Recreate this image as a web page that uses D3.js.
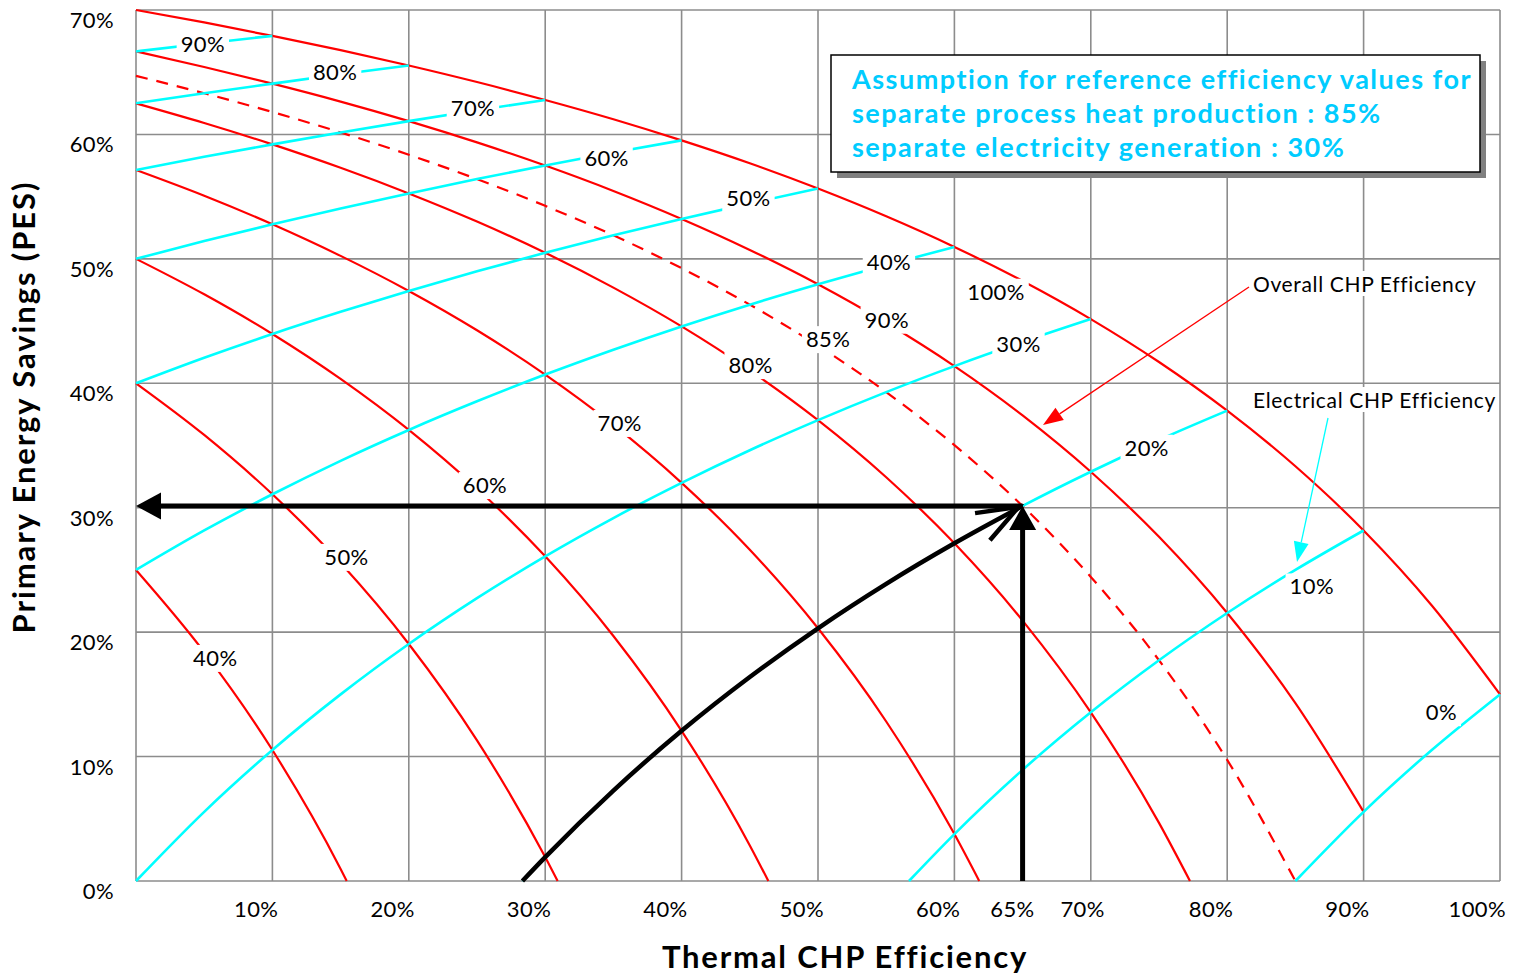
<!DOCTYPE html>
<html><head><meta charset="utf-8">
<script src="https://cdn.jsdelivr.net/npm/d3@7"></script>
<style>body{margin:0;background:#fff} svg{display:block} text{font-family:Lato,"Open Sans",sans-serif}</style>
</head><body>
<svg id="c" width="1520" height="976"></svg>
<script>
// ---- Data: [thermal CHP efficiency %, primary energy savings %] ----
// Overall CHP efficiency curves (red)
const overall40 = [[0,25],[5,18.40],[10,10.53],[15,0.97],[15.45,0]];
const overall50 = [[0,40],[5,35.85],[10,31.08],[15,25.55],[20,19.05],[25,11.30],[30,1.92],[30.91,0]];
const overall60 = [[0,50],[5,47.15],[10,43.96],[15,40.35],[20,36.25],[25,31.54],[30,26.09],[35,19.69],[40,12.07],[45,2.86],[46.36,0]];
const overall70 = [[0,57.14],[5,55.07],[10,52.78],[15,50.24],[20,47.42],[25,44.26],[30,40.70],[35,36.65],[40,32.00],[45,26.62],[50,20.31],[55,12.82],[60,3.77],[61.82,0]];
const overall80 = [[0,62.5],[5,60.92],[10,59.20],[15,57.32],[20,55.26],[25,53.00],[30,50.49],[35,47.69],[40,44.57],[45,41.04],[50,37.04],[55,32.45],[60,27.14],[65,20.93],[70,13.56],[75,4.67],[77.27,0]];
const overall85 = [[0,64.71],[5,63.31],[10,61.80],[15,60.16],[20,58.37],[25,56.41],[30,54.26],[35,51.89],[40,49.25],[45,46.32],[50,43.02],[55,39.29],[60,35.03],[65,30.14],[70,24.44],[75,17.74],[80,9.73],[85,0]];
const overall90 = [[0,66.67],[5,65.42],[10,64.08],[15,62.64],[20,61.07],[25,59.36],[30,57.50],[35,55.46],[40,53.21],[45,50.72],[50,47.96],[55,44.86],[60,41.38],[65,37.42],[70,32.89],[75,27.66],[80,21.54],[85,14.29],[90,5.56]];
const overall100 = [[0,70],[5,69.00],[10,67.92],[15,66.78],[20,65.54],[25,64.21],[30,62.77],[35,61.22],[40,59.52],[45,57.68],[50,55.65],[55,53.42],[60,50.96],[65,48.22],[70,45.16],[75,41.71],[80,37.80],[85,33.33],[90,28.17],[95,22.14],[100,15.00]];
// Electrical CHP efficiency curves (cyan)
const electrical0 = [[85,0],[90,5.56],[95,10.53],[100,15.00]];
const electrical10 = [[56.67,0],[60,3.77],[65,8.93],[70,13.56],[75,17.74],[80,21.54],[85,25.00],[90,28.17]];
const electrical20 = [[28.33,0],[30,1.92],[35,7.27],[40,12.07],[45,16.39],[50,20.31],[55,23.88],[60,27.14],[65,30.14],[70,32.89],[75,35.44],[80,37.80]];
const electrical30 = [[0,0],[5,5.56],[10,10.53],[15,15.00],[20,19.05],[25,22.73],[30,26.09],[35,29.17],[40,32.00],[45,34.62],[50,37.04],[55,39.29],[60,41.38],[65,43.33],[70,45.16]];
const electrical40 = [[0,25],[5,28.17],[10,31.08],[15,33.77],[20,36.25],[25,38.55],[30,40.70],[35,42.70],[40,44.57],[45,46.32],[50,47.96],[55,49.50],[60,50.96]];
const electrical50 = [[0,40],[5,42.05],[10,43.96],[15,45.74],[20,47.42],[25,49.00],[30,50.49],[35,51.89],[40,53.21],[45,54.46],[50,55.65]];
const electrical60 = [[0,50],[5,51.43],[10,52.78],[15,54.05],[20,55.26],[25,56.41],[30,57.50],[35,58.54],[40,59.52]];
const electrical70 = [[0,57.14],[5,58.20],[10,59.20],[15,60.16],[20,61.07],[25,61.94],[30,62.77]];
const electrical80 = [[0,62.5],[5,63.31],[10,64.08],[15,64.83],[20,65.54]];
const electrical90 = [[0,66.67],[5,67.31],[10,67.92]];
// Operating point example (thermal 65%, electrical 20%)
const operatingPoint = [65, 30.14];
// Ticks
const xTickValues = [10,20,30,40,50,60,65,70,80,90,100];
const yTickValues = [0,10,20,30,40,50,60,70];
const xGridValues = [0,10,20,30,40,50,60,70,80,90,100];
const boxLines = ["Assumption for reference efficiency values for","separate process heat production : 85%","separate electricity generation : 30%"];

// ---- Series tables ----
const redSeries = [
  {name:"40%", pts:overall40, at:5.3, dx:7, dy:0},
  {name:"50%", pts:overall50, at:14.55, dx:12, dy:0},
  {name:"60%", pts:overall60, at:24.7, dx:12, dy:0},
  {name:"70%", pts:overall70, at:34.8, dx:9, dy:0},
  {name:"80%", pts:overall80, at:44.4, dx:9, dy:0},
  {name:"85%", pts:overall85, at:49.2, dx:21, dy:0, dashed:true},
  {name:"90%", pts:overall90, at:54.6, dx:6, dy:0},
  {name:"100%", pts:overall100, at:63.05, dx:0, dy:24}
];
const cyanSeries = [
  {name:"0%", pts:electrical0, at:95.7, dx:0, dy:-30},
  {name:"10%", pts:electrical10, at:86.2, dx:0, dy:26},
  {name:"20%", pts:electrical20, at:74.1, dx:0, dy:2},
  {name:"30%", pts:electrical30, at:64.7, dx:0, dy:1},
  {name:"40%", pts:electrical40, at:55.2, dx:0, dy:-2},
  {name:"50%", pts:electrical50, at:44.9, dx:0, dy:-6},
  {name:"60%", pts:electrical60, at:34.5, dx:0, dy:4},
  {name:"70%", pts:electrical70, at:24.7, dx:0, dy:-3},
  {name:"80%", pts:electrical80, at:14.6, dx:0, dy:-3},
  {name:"90%", pts:electrical90, at:4.9, dx:0, dy:0}
];

const svg = d3.select("#c");
const x = d3.scaleLinear().domain([0,100]).range([136,1500]);
const y = d3.scaleLinear().domain([0,70]).range([881,10]);
const line = d3.line().x(d=>x(d[0])).y(d=>y(d[1])).curve(d3.curveMonotoneX);

function interp(pts, t){
  for(let i=0;i<pts.length-1;i++){
    const a=pts[i], b=pts[i+1];
    if(t>=a[0] && t<=b[0]){ const f=(t-a[0])/(b[0]-a[0]); return [t, a[1]+f*(b[1]-a[1])]; }
  }
  return pts[pts.length-1];
}

const LABEL_FS = 22, LABEL_LS = 0.4;

// ---- Grid ----
const grid = svg.append("g").attr("stroke","#8c8c8c").attr("stroke-width",1.6);
grid.selectAll("line.v").data(xGridValues).join("line").attr("class","v")
  .attr("x1",d=>x(d)).attr("x2",d=>x(d)).attr("y1",y(0)).attr("y2",y(70));
grid.selectAll("line.h").data(yTickValues).join("line").attr("class","h")
  .attr("x1",x(0)).attr("x2",x(100)).attr("y1",d=>y(d)).attr("y2",d=>y(d));

// ---- Tick labels ----
const xTickNudge = {65:12, 70:14};
svg.append("g").selectAll("text").data(xTickValues).join("text")
  .attr("x",d=>x(d)+(xTickNudge[d]||6)).attr("y",y(0)+36)
  .attr("text-anchor","end").attr("font-size",LABEL_FS).attr("letter-spacing",LABEL_LS).attr("fill","#000")
  .text(d=>d+"%");
svg.append("g").selectAll("text").data(yTickValues).join("text")
  .attr("x",114).attr("y",d=>y(d)+18)
  .attr("text-anchor","end").attr("font-size",LABEL_FS).attr("letter-spacing",LABEL_LS).attr("fill","#000")
  .text(d=>d+"%");

// ---- Curves ----
svg.append("g").selectAll("path").data(redSeries).join("path")
  .attr("d",d=>line(d.pts)).attr("fill","none").attr("stroke","#ff0000").attr("stroke-width",2.2)
  .attr("stroke-dasharray",d=>d.dashed?"12,9":null);
svg.append("g").selectAll("path").data(cyanSeries).join("path")
  .attr("d",d=>line(d.pts)).attr("fill","none").attr("stroke","#00ffff").attr("stroke-width",2.6);

// ---- Curve labels ----
const labG = svg.append("g");
[...redSeries, ...cyanSeries].forEach(s=>{
  const p = interp(s.pts, s.at);
  const cx = x(p[0])+s.dx, cy = y(p[1])+s.dy;
  const g = labG.append("g");
  const t = g.append("text").attr("x",cx).attr("y",cy+8).attr("text-anchor","middle")
    .attr("font-size",LABEL_FS).attr("letter-spacing",LABEL_LS).attr("fill","#000").text(s.name);
  const bb = t.node().getBBox();
  g.insert("rect","text").attr("x",bb.x-4).attr("y",cy-13).attr("width",bb.width+8).attr("height",27).attr("fill","#fff");
});

// ---- Black arrows ----
const arrowG = svg.append("g");
const op = operatingPoint;
const px = x(op[0]), py = y(op[1]);
// horizontal
arrowG.append("line").attr("x1",px).attr("x2",x(0)+22).attr("y1",py).attr("y2",py).attr("stroke","#000").attr("stroke-width",5);
arrowG.append("path").attr("d",`M${x(0)},${py} L${x(0)+25},${py-13.5} L${x(0)+25},${py+13.5} Z`).attr("fill","#000");
// vertical
arrowG.append("line").attr("x1",px).attr("x2",px).attr("y1",y(0)).attr("y2",py+20).attr("stroke","#000").attr("stroke-width",5);
arrowG.append("path").attr("d",`M${px},${py} L${px-13.5},${py+24} L${px+13.5},${py+24} Z`).attr("fill","#000");
// curved arrow along electrical 20% curve
const curvePts = electrical20.filter(d=>d[0]<=op[0]);
arrowG.append("path").attr("d",line(curvePts))
  .attr("fill","none").attr("stroke","#000").attr("stroke-width",4.5);
{
  const a = curvePts[curvePts.length-2];
  const ang = Math.atan2(py - y(a[1]), px - x(a[0]));
  const back = ang + Math.PI, L = 44, spread = 0.36;
  const tipx = px-4, tipy = py+1;
  const p1 = [tipx+L*Math.cos(back+spread), tipy+L*Math.sin(back+spread)];
  const p2 = [tipx+L*Math.cos(back-spread), tipy+L*Math.sin(back-spread)];
  arrowG.append("path").attr("d",`M${p1[0]},${p1[1]} L${tipx},${tipy} L${p2[0]},${p2[1]}`)
    .attr("fill","none").attr("stroke","#000").attr("stroke-width",4.5).attr("stroke-linejoin","miter");
}

// ---- Annotation arrows + texts ----
function leader(x1,y1,x2,y2,color){
  const ang = Math.atan2(y2-y1,x2-x1), L=20, w=7.5;
  const bx = x2-L*Math.cos(ang), by = y2-L*Math.sin(ang);
  svg.append("line").attr("x1",x1).attr("y1",y1).attr("x2",bx).attr("y2",by).attr("stroke",color).attr("stroke-width",1.3);
  const nx=-Math.sin(ang), ny=Math.cos(ang);
  svg.append("path").attr("d",`M${x2},${y2} L${bx+nx*w},${by+ny*w} L${bx-nx*w},${by-ny*w} Z`).attr("fill",color);
}
function note(tx,ty,str){
  const g = svg.append("g");
  const t = g.append("text").attr("x",tx).attr("y",ty).attr("font-size",21).attr("letter-spacing",0.65).attr("fill","#000").text(str);
  const bb = t.node().getBBox();
  g.insert("rect","text").attr("x",bb.x-2).attr("y",bb.y).attr("width",bb.width+4).attr("height",bb.height).attr("fill","#fff");
}
leader(1249,287,1043,425,"#ff0000");
leader(1328,418,1297,562,"#00ffff");
note(1253,292,"Overall CHP Efficiency");
note(1253,408,"Electrical CHP Efficiency");

// ---- Assumption box ----
const box = svg.append("g");
box.append("rect").attr("x",837).attr("y",61).attr("width",649).attr("height",117).attr("fill","#808080");
box.append("rect").attr("x",831).attr("y",55).attr("width",649).attr("height",117).attr("fill","#fff").attr("stroke","#000").attr("stroke-width",1.5);
box.selectAll("text").data(boxLines).join("text")
  .attr("x",852).attr("y",(d,i)=>89+i*34).attr("font-size",27).attr("letter-spacing",1.5).attr("font-weight","bold").attr("fill","#00ccff")
  .text(d=>d);

// ---- Axis titles ----
svg.append("text").attr("x",845).attr("y",968).attr("text-anchor","middle").attr("font-size",31).attr("letter-spacing",1.8).attr("font-weight","bold").attr("fill","#000").text("Thermal CHP Efficiency");
svg.append("text").attr("transform","translate(35,407) rotate(-90)").attr("text-anchor","middle").attr("font-size",31).attr("letter-spacing",1.9).attr("font-weight","bold").attr("fill","#000").text("Primary Energy Savings (PES)");
</script>
</body></html>
